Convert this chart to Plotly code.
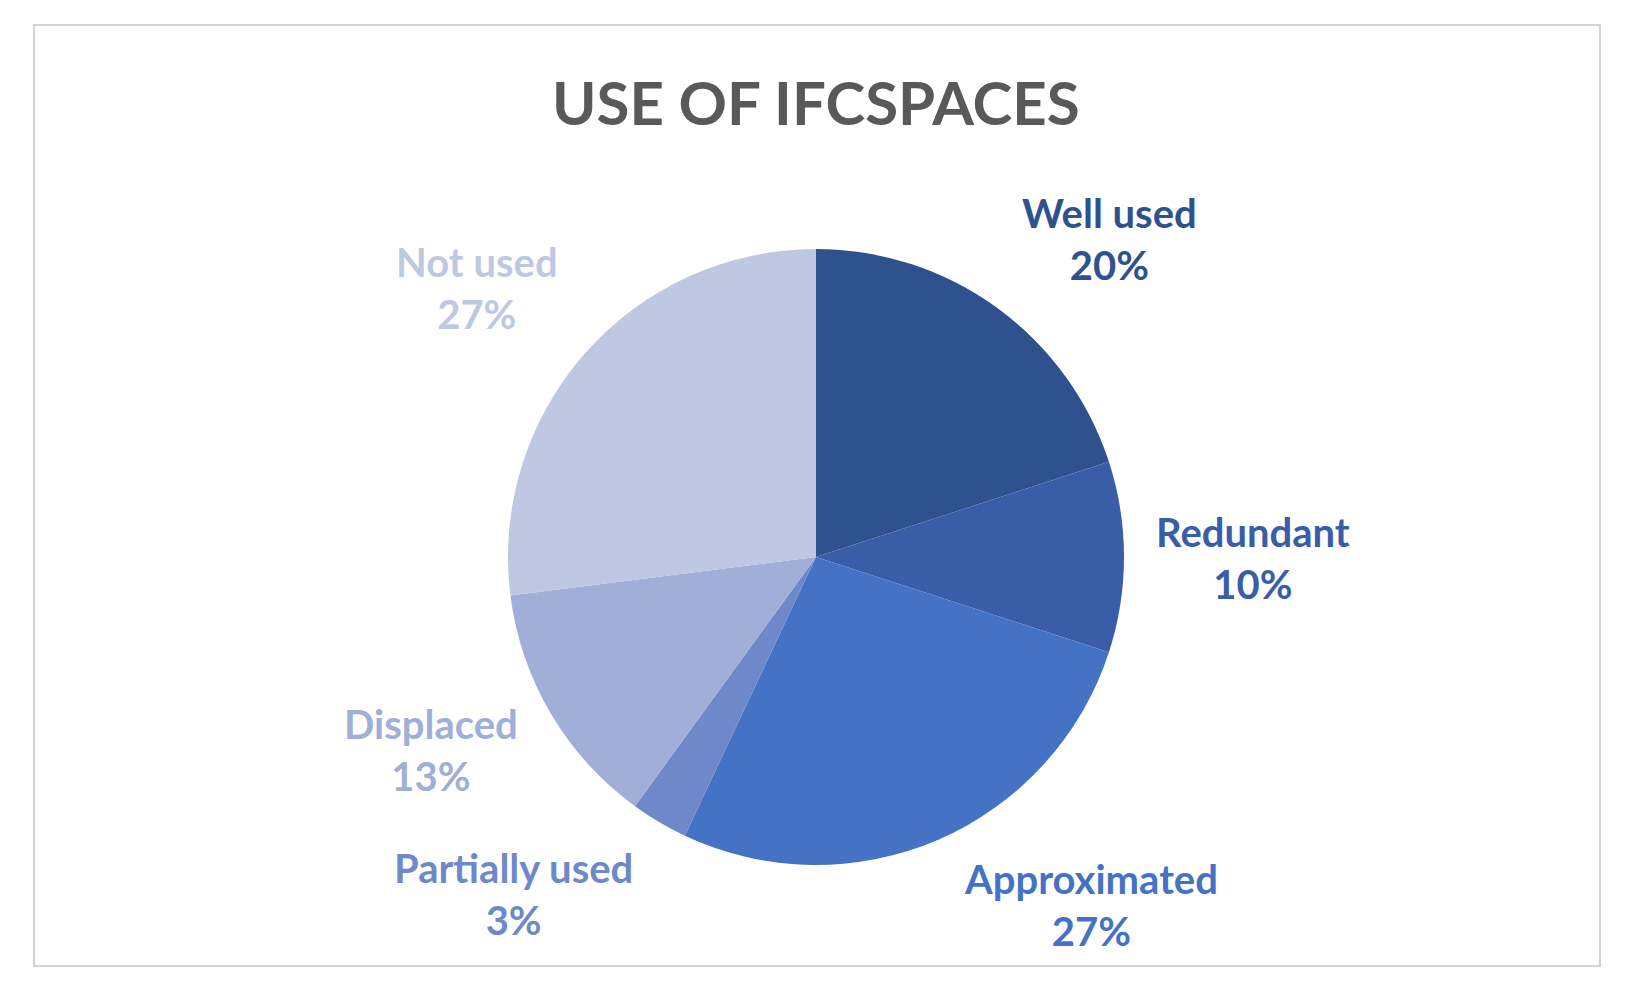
import plotly.graph_objects as go

# data
categorias = ['Well used', 'Redundant', 'Approximated', 'Partially used', 'Displaced', 'Not used']
percentuais = [20, 10, 27, 3, 13, 27]
cores = ['#2F528F', '#3A5DA8', '#4472C4', '#6F88CA', '#A0AED8', '#BFC8E3']

# label centres in pixels of the page (x, y from top)
pos_rotulos = [(1109, 239), (1253, 558), (1091, 905), (513, 894), (431, 750), (477, 288)]

# page has an 8px body margin, so the figure is drawn 8px in
OFF = 8
W, H = 1634 - 2 * OFF, 994 - 2 * OFF
cx, cy, r = 816 - OFF, 557 - OFF, 308


def px(x):
    return (x - OFF) / W


def py(y):
    return 1 - (y - OFF) / H


fig = go.Figure(go.Pie(
    labels=categorias,
    values=percentuais,
    sort=False,
    direction='clockwise',
    rotation=0,
    marker=dict(colors=cores, line=dict(width=0)),
    textinfo='none',
    hoverinfo='label+percent',
    showlegend=False,
    domain=dict(x=[(cx - r) / W, (cx + r) / W], y=[(H - cy - r) / H, (H - cy + r) / H]),
))

total = sum(percentuais)
for nome, val, cor, (x, y) in zip(categorias, percentuais, cores, pos_rotulos):
    fig.add_annotation(
        x=px(x), y=py(y), xref='paper', yref='paper',
        xanchor='center', yanchor='middle',
        text=f'<b>{nome}<br>{round(val / total * 100)}%</b>',
        showarrow=False, align='center',
        font=dict(family='Lato', size=40, color=cor),
    )

fig.add_annotation(
    x=px(816), y=py(102), xref='paper', yref='paper',
    xanchor='center', yanchor='middle',
    text='<b>USE OF IFCSPACES</b>', showarrow=False,
    font=dict(family='Lato', size=60, color='#595959'),
)

# moldura do gráfico
fig.add_shape(type='rect', xref='paper', yref='paper',
              x0=px(34), x1=px(1600), y0=py(966), y1=py(25),
              line=dict(color='#D4D4D4', width=2))

fig.update_layout(width=W, height=H, margin=dict(l=0, r=0, t=0, b=0),
                  paper_bgcolor='white', plot_bgcolor='white')

fig.write_html('out.html')
